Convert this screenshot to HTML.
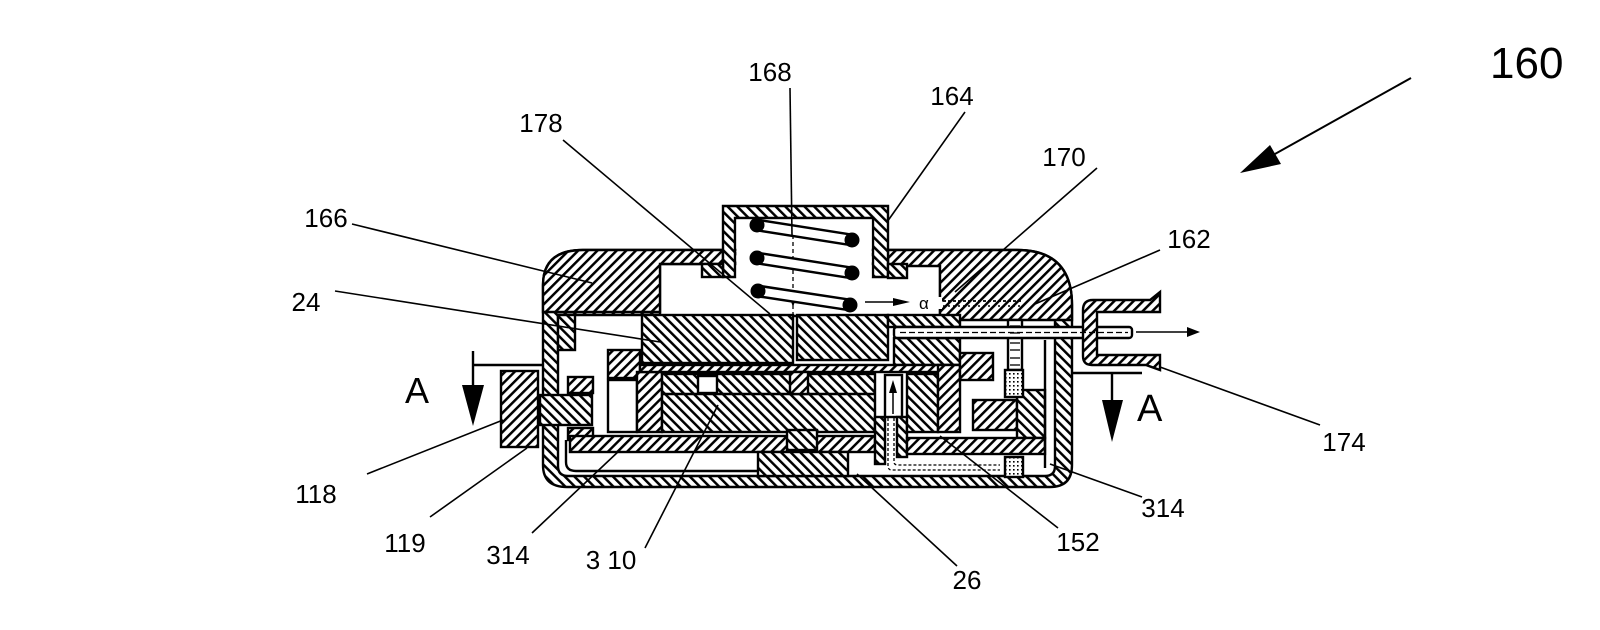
<!DOCTYPE html>
<html><head><meta charset="utf-8"><style>
html,body{margin:0;padding:0;background:#fff;}
svg{display:block;}
text{font-family:"Liberation Sans",Arial,sans-serif;fill:#000;}
</style></head><body>
<svg width="1600" height="630" viewBox="0 0 1600 630" xmlns="http://www.w3.org/2000/svg">
<defs>
<pattern id="a" width="6.8" height="10" patternUnits="userSpaceOnUse" patternTransform="rotate(45)"><rect width="6.8" height="10" fill="#fff"/><rect width="2.5" height="10" fill="#000"/></pattern>
<pattern id="b" width="6.8" height="10" patternUnits="userSpaceOnUse" patternTransform="rotate(-45)"><rect width="6.8" height="10" fill="#fff"/><rect width="2.5" height="10" fill="#000"/></pattern>
<pattern id="d" width="4" height="4" patternUnits="userSpaceOnUse"><rect width="4" height="4" fill="#fff"/><rect x="1" y="1" width="1.6" height="1.6" fill="#000"/></pattern>
</defs>
<rect width="1600" height="630" fill="#fff"/>

<g stroke="#000" stroke-width="2.4">
<!-- housing -->
<path d="M543,285 Q543,250 583,250 L1017,250 Q1072,250 1072,305 L1072,465 Q1072,487 1050,487 L567,487 Q543,487 543,465 Z" fill="url(#b)"/>
<path d="M558,315 H1055 V466 Q1055,476 1045,476 H568 Q558,476 558,466 Z" fill="#fff"/>
<rect x="660" y="264" width="280" height="52" fill="#fff"/>
<path d="M543,312 L543,285 Q543,250 583,250 L723,250 L723,264 L660,264 L660,312 Z" fill="url(#a)"/>
<path d="M888,250 L1017,250 Q1072,250 1072,305 L1072,320 L940,320 L940,266 L888,266 Z" fill="url(#a)"/>
<!-- cap -->
<path d="M723,277 V206 H888 V277 H873 V218 H735 V277 Z" fill="url(#b)"/>
</g>
<rect x="736.4" y="219.4" width="135.3" height="58" fill="#fff"/>
<g stroke="#000" stroke-width="2.4">
<rect x="702" y="264" width="21" height="13" fill="url(#b)"/>
<rect x="888" y="264" width="19" height="14" fill="url(#b)"/>

<!-- left interior -->
<rect x="558" y="315" width="17" height="35" fill="url(#b)"/>
<rect x="608" y="350" width="32" height="28" fill="url(#a)"/>
<rect x="568" y="377" width="25" height="16" fill="url(#a)"/>
<rect x="608" y="380" width="29" height="52" fill="#fff"/>
<rect x="540" y="395" width="52" height="30" fill="url(#b)"/>
<rect x="568" y="428" width="25" height="12" fill="url(#a)"/>
<rect x="501" y="371" width="37" height="76" fill="url(#a)"/>
<path d="M566,440 V462 Q566,471 576,471 H758" fill="none"/>

<!-- central -->
<rect x="637" y="372" width="25" height="60" fill="url(#a)"/>
<rect x="642" y="315" width="151" height="48" fill="url(#b)"/>
<rect x="797" y="315" width="91" height="45" fill="url(#b)"/>
<rect x="888" y="315" width="72" height="12" fill="url(#b)"/>
<rect x="894" y="338" width="66" height="27" fill="url(#b)"/>
<rect x="640" y="365" width="320" height="7" fill="url(#a)"/>
<rect x="662" y="374" width="213" height="58" fill="url(#b)"/>
<line x1="662" y1="394" x2="875" y2="394"/>
<rect x="698" y="376" width="19" height="17" fill="#fff"/>
<rect x="790" y="372" width="18" height="22" fill="url(#a)"/>
<rect x="570" y="436" width="305" height="16" fill="url(#a)"/>
<rect x="787" y="430" width="30" height="20" fill="url(#b)"/>
<rect x="758" y="452" width="90" height="24" fill="url(#b)"/>
<rect x="885" y="375" width="17" height="42" fill="#fff"/>
<rect x="875" y="417" width="10" height="47" fill="url(#b)"/>
<rect x="897" y="417" width="10" height="40" fill="url(#b)"/>

<!-- right interior -->
<rect x="907" y="374" width="31" height="58" fill="url(#b)"/>
<rect x="938" y="365" width="22" height="67" fill="url(#a)"/>
<rect x="960" y="353" width="33" height="27" fill="url(#a)"/>
<rect x="973" y="400" width="44" height="30" fill="url(#a)"/>
<rect x="1017" y="390" width="28" height="48" fill="url(#b)"/>
<rect x="907" y="438" width="138" height="16" fill="url(#a)"/>
<line x1="1045" y1="340" x2="1045" y2="468"/>
<rect x="1008" y="320" width="14" height="50" fill="#fff"/>
<rect x="1005" y="370" width="18" height="27" fill="url(#d)"/>
<rect x="1005" y="457" width="18" height="20" fill="url(#d)"/>

<!-- tube -->
<rect x="894" y="327" width="238" height="11" rx="3" fill="#fff"/>
<!-- connector 174 -->
<path d="M1160,292 L1160,312 L1097,312 L1097,355 L1160,355 L1160,370 L1146,365 L1092,365 Q1083,365 1083,356 L1083,310 Q1083,300 1093,300 L1150,300 Z" fill="url(#a)"/>
</g>

<!-- small details -->
<g stroke="#000" stroke-width="1.3" fill="none">
<line x1="900" y1="332.5" x2="1128" y2="332.5" stroke-dasharray="6 3"/>
<path d="M888,418 V466 Q888,470 892,470 H1000" stroke-dasharray="3 2"/>
<path d="M894,418 V462 Q894,465 898,465 H1000" stroke-dasharray="3 2"/>
<line x1="1010" y1="326" x2="1020" y2="326"/><line x1="1010" y1="333" x2="1020" y2="333"/>
<line x1="1010" y1="343" x2="1020" y2="343"/><line x1="1010" y1="350" x2="1020" y2="350"/>
<line x1="1010" y1="358" x2="1020" y2="358"/><line x1="1010" y1="365" x2="1020" y2="365"/>
<line x1="793" y1="235" x2="793" y2="363" stroke-dasharray="4 3"/>
<line x1="938" y1="301" x2="1022" y2="301" stroke-dasharray="3 2" stroke-width="1.8"/>
<line x1="938" y1="306" x2="1022" y2="306" stroke-dasharray="2 3" stroke-width="1.5"/>
</g>
<rect x="936" y="297" width="6" height="12" fill="#fff"/>
<text x="919" y="309" font-size="17">α</text>
<polygon points="789,296 797,296 793,307" fill="#000"/>
<line x1="893" y1="414" x2="893" y2="388" stroke="#000" stroke-width="1.5"/>
<polygon points="889,393 897,393 893,380" fill="#000"/>

<!-- spring -->
<g stroke-linecap="butt">
<line x1="757" y1="225" x2="852" y2="240" stroke="#000" stroke-width="13"/>
<line x1="757" y1="225" x2="852" y2="240" stroke="#fff" stroke-width="8"/>
<line x1="757" y1="258" x2="852" y2="273" stroke="#000" stroke-width="13"/>
<line x1="757" y1="258" x2="852" y2="273" stroke="#fff" stroke-width="8"/>
<line x1="758" y1="291" x2="850" y2="305" stroke="#000" stroke-width="13"/>
<line x1="758" y1="291" x2="850" y2="305" stroke="#fff" stroke-width="8"/>
</g>
<g fill="#000">
<circle cx="757" cy="225" r="7.5"/><circle cx="852" cy="240" r="7.5"/>
<circle cx="757" cy="258" r="7.5"/><circle cx="852" cy="273" r="7.5"/>
<circle cx="758" cy="291" r="7.5"/><circle cx="850" cy="305" r="7.5"/>
</g>
<!-- flow arrows -->
<line x1="865" y1="302" x2="898" y2="302" stroke="#000" stroke-width="1.6"/>
<polygon points="893,298 910,302 893,306" fill="#000"/>
<line x1="1136" y1="332" x2="1190" y2="332" stroke="#000" stroke-width="1.6"/>
<polygon points="1187,327 1200,332 1187,337" fill="#000"/>

<!-- section A markers -->
<g stroke="#000" stroke-width="2.4">
<line x1="473" y1="365" x2="543" y2="365"/>
<line x1="473" y1="351" x2="473" y2="387"/>
<line x1="1073" y1="373" x2="1142" y2="373"/>
<line x1="1112" y1="373" x2="1112" y2="401"/>
</g>
<polygon points="462,385 484,385 473,426" fill="#000"/>
<polygon points="1102,400 1123,400 1112,442" fill="#000"/>
<text x="405" y="403" font-size="36">A</text>
<text x="1137" y="421" font-size="38">A</text>

<!-- leader lines -->
<g stroke="#000" stroke-width="1.6">
<line x1="790" y1="88" x2="792" y2="235"/>
<line x1="965" y1="112" x2="887" y2="222"/>
<line x1="563" y1="140" x2="770" y2="314"/>
<line x1="1097" y1="168" x2="955" y2="292"/>
<line x1="352" y1="224" x2="592" y2="283"/>
<line x1="335" y1="291" x2="660" y2="342"/>
<line x1="1160" y1="250" x2="1035" y2="304"/>
<line x1="1160" y1="367" x2="1320" y2="425"/>
<line x1="367" y1="474" x2="503" y2="420"/>
<line x1="430" y1="517" x2="527" y2="448"/>
<line x1="532" y1="533" x2="620" y2="450"/>
<line x1="645" y1="548" x2="718" y2="405"/>
<line x1="957" y1="566" x2="857" y2="474"/>
<line x1="1058" y1="528" x2="940" y2="436"/>
<line x1="1142" y1="497" x2="1050" y2="464"/>
<line x1="1411" y1="78" x2="1266" y2="159" stroke-width="2"/>
</g>
<polygon points="1240,173 1270,145 1281,164" fill="#000"/>

<!-- labels -->
<g font-size="26" text-anchor="middle">
<text x="770" y="81">168</text>
<text x="952" y="105">164</text>
<text x="541" y="132">178</text>
<text x="1064" y="166">170</text>
<text x="326" y="227">166</text>
<text x="1189" y="248">162</text>
<text x="306" y="311">24</text>
<text x="316" y="503">118</text>
<text x="405" y="552">119</text>
<text x="508" y="564">314</text>
<text x="611" y="569">3 10</text>
<text x="967" y="589">26</text>
<text x="1078" y="551">152</text>
<text x="1163" y="517">314</text>
<text x="1344" y="451">174</text>
</g>
<text x="1490" y="78" font-size="44">160</text>
</svg>
</body></html>
